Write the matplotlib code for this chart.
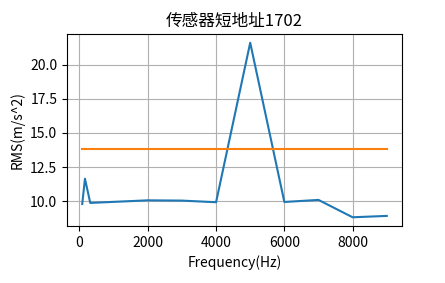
import matplotlib
matplotlib.use("Agg")
import matplotlib.pyplot as plt

plt.rcParams['font.family'] = ['Noto Sans CJK SC', 'DejaVu Sans']
plt.rcParams['axes.unicode_minus'] = False

# data
freq = [80, 160, 315, 2000, 3000, 4000, 5000, 6000, 7000, 8000, 9000]
rms = [9.80, 11.65, 9.88, 10.07, 10.05, 9.93, 21.6, 9.95, 10.1, 8.83, 8.93]
limit = [13.84] * len(freq)

fig = plt.figure(figsize=(4.45, 2.83), dpi=100)
ax = fig.add_axes([67/445, 1 - 226/283, 335/445, 192/283])
ax.plot(freq, rms)
ax.plot(freq, limit)
ax.grid(True)
ax.set_title("传感器短地址1702")
ax.set_xlabel("Frequency(Hz)")
ax.set_ylabel("RMS(m/s^2)")

fig.savefig("out.png", dpi=100)
